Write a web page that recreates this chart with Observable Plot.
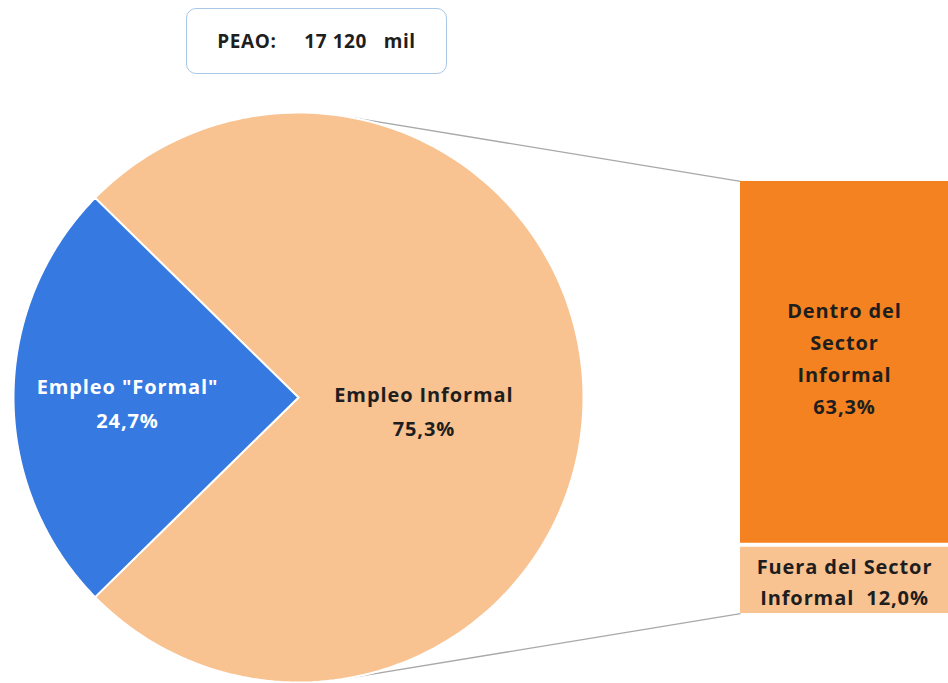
<!DOCTYPE html>
<html>
<head>
<meta charset="utf-8">
<script src="https://cdn.jsdelivr.net/npm/d3@7"></script>
<script src="https://cdn.jsdelivr.net/npm/@observablehq/plot@0.6"></script>
<style>
  html, body { margin: 0; padding: 0; background: #fff; }
  #wrap { position: relative; width: 948px; height: 683px; font-family: "Open Sans", sans-serif; }
  #header { position: relative; height: 96px; }
  #box {
    position: absolute; left: 186px; top: 8px; width: 261px; height: 66px;
    box-sizing: border-box; border: 1.5px solid #a9c8e8; border-radius: 10px;
    display: flex; align-items: center; justify-content: center;
    font-weight: 700; font-size: 19px; letter-spacing: 0.6px; color: #1e1e1e; white-space: pre;
  }
  #chart svg { display: block; }
  #chart svg text { letter-spacing: 0.9px; }
</style>
</head>
<body>
<div id="wrap">
  <div id="header"><div id="box"></div></div>
  <div id="chart"></div>
</div>
<script>
// ---- data ----
const pieLabels = ['Empleo "Formal"', 'Empleo Informal'];
const pieValues = [24.7, 75.3];
const pieColors = ["#3579e1", "#f8c291"];
const barLabels = ["Dentro del\nSector\nInformal", "Fuera del Sector\nInformal"];
const barValues = [63.3, 12.0];
const barColors = ["#f58220", "#f8c291"];
const peaoLabel = "PEAO:";
const peaoValue = "17 120";
const peaoUnit = "mil";

const fmt = v => v.toFixed(1).replace(".", ",") + "%";

document.getElementById("box").textContent = `${peaoLabel}     ${peaoValue}   ${peaoUnit}`;

// ---- layout (units of pie radius, centre at origin) ----
const W = 948, H = 587;
const Rpx = 285;
const cxPx = 298, cyPx = 301;          // pie centre within the svg
const xDomain = [-cxPx / Rpx, (W - cxPx) / Rpx];
const yDomain = [-(H - cyPx) / Rpx, cyPx / Rpx];
const barX1 = (740 - cxPx) / Rpx, barX2 = xDomain[1];
const barHalf = 0.758;

// pie wedges: formal slice centred on the left (180°)
const total = d3.sum(pieValues);
const aFormal = 2 * Math.PI * pieValues[0] / total;
const wedges = [
  {i: 0, a0: Math.PI - aFormal / 2, a1: Math.PI + aFormal / 2},
  {i: 1, a0: Math.PI + aFormal / 2, a1: 3 * Math.PI - aFormal / 2}
];
const wedgePts = [];
for (const w of wedges) {
  wedgePts.push({slice: w.i, x: 0, y: 0});
  const n = 180;
  for (let k = 0; k <= n; k++) {
    const a = w.a0 + (w.a1 - w.a0) * k / n;
    wedgePts.push({slice: w.i, x: Math.cos(a), y: Math.sin(a)});
  }
  wedgePts.push({slice: w.i, x: 0, y: 0});
}

// bar segments (stacked top to bottom)
const barTotal = d3.sum(barValues);
let cum = 0;
const barSegs = barValues.map((v, i) => {
  const y1 = barHalf - 2 * barHalf * cum / barTotal;
  cum += v;
  const y2 = barHalf - 2 * barHalf * cum / barTotal;
  return {i, y1, y2, xa: barX1, xb: barX2, fill: barColors[i],
          label: i === 0 ? `${barLabels[i]}\n${fmt(v)}` : `${barLabels[i]}  ${fmt(v)}`};
});

// connector lines: tangent from bar corners to circle
function tangent(px, py) {
  const d = Math.hypot(px, py);
  const phi = Math.atan2(py, px);
  const alpha = Math.acos(1 / d);
  const t = py >= 0 ? phi + alpha : phi - alpha;
  return {x1: Math.cos(t), y1: Math.sin(t), x2: px, y2: py};
}
const connectors = [tangent(barX1, barHalf), tangent(barX1, -barHalf)];

// pie labels
const pieText = [
  {x: -0.6, y: -0.01, text: `${pieLabels[0]}\n${fmt(pieValues[0])}`, fill: "#ffffff"},
  {x: 0.44, y: -0.038, text: `${pieLabels[1]}\n${fmt(pieValues[1])}`, fill: "#1e1e1e"}
];

const textStyle = {fontFamily: "Open Sans", fontWeight: 700, fontSize: 20};

const chart = Plot.plot({
  width: W, height: H,
  margin: 0,
  x: {domain: xDomain, axis: null},
  y: {domain: yDomain, axis: null},
  marks: [
    Plot.link(connectors, {x1: "x1", y1: "y1", x2: "x2", y2: "y2", stroke: "#a8a8a8", strokeWidth: 1.3}),
    Plot.line(wedgePts.filter(d => d.slice === 1), {x: "x", y: "y", fill: pieColors[1], stroke: "white", strokeWidth: 2, strokeLinejoin: "round"}),
    Plot.line(wedgePts.filter(d => d.slice === 0), {x: "x", y: "y", fill: pieColors[0], stroke: "white", strokeWidth: 2, strokeLinejoin: "round"}),
    Plot.rect(barSegs, {x1: "xa", x2: "xb", y1: "y1", y2: "y2", fill: "fill"}),
    Plot.ruleY(barSegs.slice(1), {y: "y1", x1: "xa", x2: "xb", stroke: "white", strokeWidth: 4}),
    Plot.text(pieText, {x: "x", y: "y", text: "text", fill: "fill", ...textStyle, lineHeight: 1.7}),
    Plot.text(barSegs.slice(0, 1), {x: d => (d.xa + d.xb) / 2, y: d => (d.y1 + d.y2) / 2, text: "label", fill: "#1e1e1e", ...textStyle, lineHeight: 1.6, dy: -7}),
    Plot.text(barSegs.slice(1), {x: d => (d.xa + d.xb) / 2, y: d => (d.y1 + d.y2) / 2, text: "label", fill: "#1e1e1e", ...textStyle, lineHeight: 1.55})
  ]
});
document.getElementById("chart").appendChild(chart);
</script>
</body>
</html>
